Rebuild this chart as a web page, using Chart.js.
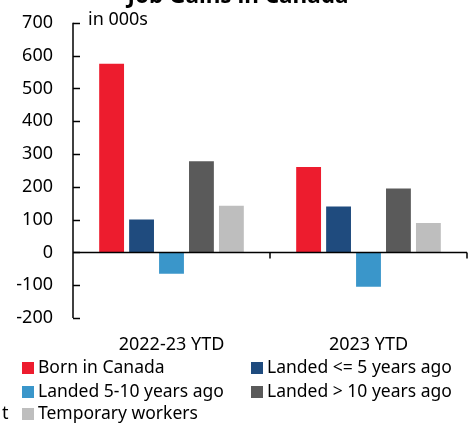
<!DOCTYPE html>
<html>
<head>
<meta charset="utf-8">
<script src="https://cdn.jsdelivr.net/npm/chart.js@4.4.0/dist/chart.umd.min.js"></script>
<style>
  html, body { margin: 0; padding: 0; background: #fff; }
  #wrap { width: 475px; height: 425px; }
</style>
</head>
<body>
<div id="wrap"><canvas id="myChart" width="475" height="425"></canvas></div>
<script>
// data (thousands of jobs)
const categories = ['2022-23 YTD', '2023 YTD'];
const seriesNames = ['Born in Canada', 'Landed <= 5 years ago', 'Landed 5-10 years ago', 'Landed > 10 years ago', 'Temporary workers'];
const bornInCanada = [575, 260];
const landedUnder5 = [100, 140];
const landed5to10 = [-65, -105];
const landedOver10 = [278, 195];
const temporary = [142, 90];
const yTicks = [-200, -100, 0, 100, 200, 300, 400, 500, 600, 700];

const colors = ['#ED1C2E', '#1F4B7E', '#3A96CA', '#5A5A5A', '#BEBEBE'];
const FONT = '"Noto Sans", sans-serif';

const allValues = [bornInCanada, landedUnder5, landed5to10, landedOver10, temporary];

// inward ticks on the y axis, category ticks under the zero line, title, note, legend
const extras = {
  id: 'extras',
  afterDraw(chart) {
    const ctx = chart.ctx;
    const y = chart.scales.y, x = chart.scales.x;
    const area = chart.chartArea;
    ctx.save();
    ctx.strokeStyle = '#000';
    ctx.lineWidth = 1.5;
    // y axis line
    ctx.beginPath();
    ctx.moveTo(area.left, y.getPixelForValue(700));
    ctx.lineTo(area.left, y.getPixelForValue(-200));
    ctx.stroke();
    yTicks.forEach(function (v) {
      const py = Math.round(y.getPixelForValue(v)) + 0.5;
      ctx.beginPath();
      ctx.moveTo(area.left, py);
      ctx.lineTo(area.left + 7, py);
      ctx.stroke();
    });
    // zero line
    const zy = y.getPixelForValue(0);
    ctx.beginPath();
    ctx.moveTo(area.left, zy);
    ctx.lineTo(area.right, zy);
    ctx.stroke();
    // category boundary ticks
    for (let i = 0; i < categories.length; i++) {
      const px = x.getPixelForValue(i) + (x.getPixelForValue(1) - x.getPixelForValue(0)) / 2;
      ctx.beginPath();
      ctx.moveTo(px, zy);
      ctx.lineTo(px, zy + 6);
      ctx.stroke();
    }
    // title, clipped at the top
    ctx.fillStyle = '#000';
    ctx.font = 'bold 22.5px ' + FONT;
    ctx.textAlign = 'center';
    ctx.textBaseline = 'alphabetic';
    ctx.fillText('Job Gains in Canada', 238, 3);
    ctx.font = '18px ' + FONT;
    ctx.textAlign = 'left';
    ctx.textBaseline = 'middle';
    ctx.fillText('in 000s', 88, 20);
    // legend in two columns
    ctx.font = '17.5px ' + FONT;
    const cols = [22, 251];
    const rows = [368, 392, 414];
    chart.data.datasets.forEach(function (ds, i) {
      const cx = cols[i % 2], cy = rows[Math.floor(i / 2)];
      ctx.fillStyle = ds.backgroundColor;
      ctx.fillRect(cx, cy - 6, 12, 12);
      ctx.fillStyle = '#000';
      ctx.fillText(ds.label, cx + 16, cy);
    });
    ctx.font = '18px ' + FONT;
    ctx.fillText('t', 2, 414);
    ctx.restore();
  }
};

new Chart(document.getElementById('myChart').getContext('2d'), {
  type: 'bar',
  data: {
    labels: categories,
    datasets: seriesNames.map(function (name, i) {
      return {
        label: name,
        data: allValues[i],
        backgroundColor: colors[i],
        categoryPercentage: 0.76,
        barPercentage: 0.83
      };
    })
  },
  options: {
    responsive: false,
    animation: false,
    layout: { padding: { top: 19, right: 8, bottom: 62, left: 0 } },
    plugins: { legend: { display: false }, tooltip: { enabled: false } },
    scales: {
      x: {
        grid: { display: false },
        border: { display: false },
        ticks: { color: '#000', font: { family: FONT, size: 18 }, padding: 8 },
        afterFit: function (s) { s.height = 45; }
      },
      y: {
        min: -200,
        max: 700,
        grid: { display: false },
        border: { display: false },
        afterBuildTicks: function (s) { s.ticks = yTicks.map(function (v) { return { value: v }; }); },
        ticks: { color: '#000', font: { family: FONT, size: 18 }, padding: 12 },
        afterFit: function (s) { s.width = 73; }
      }
    }
  },
  plugins: [extras]
});
</script>
</body>
</html>
